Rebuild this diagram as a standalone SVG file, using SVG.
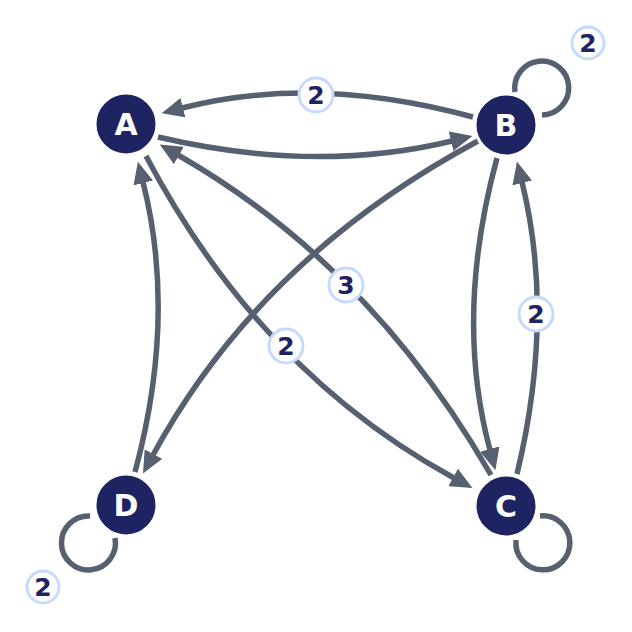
<svg xmlns="http://www.w3.org/2000/svg" width="632" height="632" viewBox="0 0 632 632">
<style>
.edge{fill:none;stroke:#566070;stroke-width:5.5;stroke-linecap:butt}
.node circle{fill:#1e2462;stroke:#ffffff;stroke-width:3}
.node text{fill:#ffffff;font-family:"DejaVu Sans",sans-serif;font-weight:bold;font-size:30px;text-anchor:middle;dominant-baseline:central}
.lbl circle{fill:#ffffff;stroke:#c8dafc;stroke-width:3}
.lbl text{fill:#1f2361;font-family:"DejaVu Sans",sans-serif;font-weight:bold;font-size:25px;text-anchor:middle;dominant-baseline:central}
</style>
<defs>
<marker id="arr" viewBox="0 0 22 20" refX="1" refY="10" markerWidth="22" markerHeight="20" markerUnits="userSpaceOnUse" orient="auto">
<path d="M0,0 L22,10 L0,20 z" fill="#566070"/>
</marker>
</defs>
<rect width="632" height="632" fill="#ffffff"/>
<g id="connectors">
<path class="edge" d="M473,117 Q315,74 182,108" marker-end="url(#arr)"/>
<path class="edge" d="M158,137 Q316,174 452,141" marker-end="url(#arr)"/>
<path class="edge" d="M135,472 Q177,317 143,182" marker-end="url(#arr)"/>
<path class="edge" d="M478,141 Q260,258 153,455" marker-end="url(#arr)"/>
<path class="edge" d="M491,475 Q370,265 178,155" marker-end="url(#arr)"/>
<path class="edge" d="M146,156 Q260,372 454,478" marker-end="url(#arr)"/>
<path class="edge" d="M497,158 Q454,316 490,450" marker-end="url(#arr)"/>
<path class="edge" d="M517,474 Q555,316 522,182" marker-end="url(#arr)"/>
<path class="edge" d="M515,92 A27,27 0 1 1 542,115"/>
<path class="edge" d="M540,516 A27,27 0 1 1 516,540"/>
<path class="edge" d="M90,516 A27,27 0 1 0 115,538"/>
</g>
<g id="edge-labels">
<g class="lbl"><circle cx="316" cy="95" r="17"/><text x="316" y="95">2</text></g>
<g class="lbl"><circle cx="588" cy="43" r="16"/><text x="588" y="43">2</text></g>
<g class="lbl"><circle cx="346" cy="285" r="17"/><text x="346" y="285">3</text></g>
<g class="lbl"><circle cx="286" cy="346" r="17"/><text x="286" y="346">2</text></g>
<g class="lbl"><circle cx="536" cy="314" r="17"/><text x="536" y="314">2</text></g>
<g class="lbl"><circle cx="43" cy="587" r="16"/><text x="43" y="587">2</text></g>
</g>
<g id="node-A" class="node"><circle cx="126" cy="124" r="31"/><text x="126" y="124">A</text></g>
<g id="node-B" class="node"><circle cx="506" cy="125" r="31"/><text x="506" y="125">B</text></g>
<g id="node-C" class="node"><circle cx="506" cy="506" r="31"/><text x="506" y="506">C</text></g>
<g id="node-D" class="node"><circle cx="126" cy="505" r="31"/><text x="126" y="505">D</text></g>
</svg>
